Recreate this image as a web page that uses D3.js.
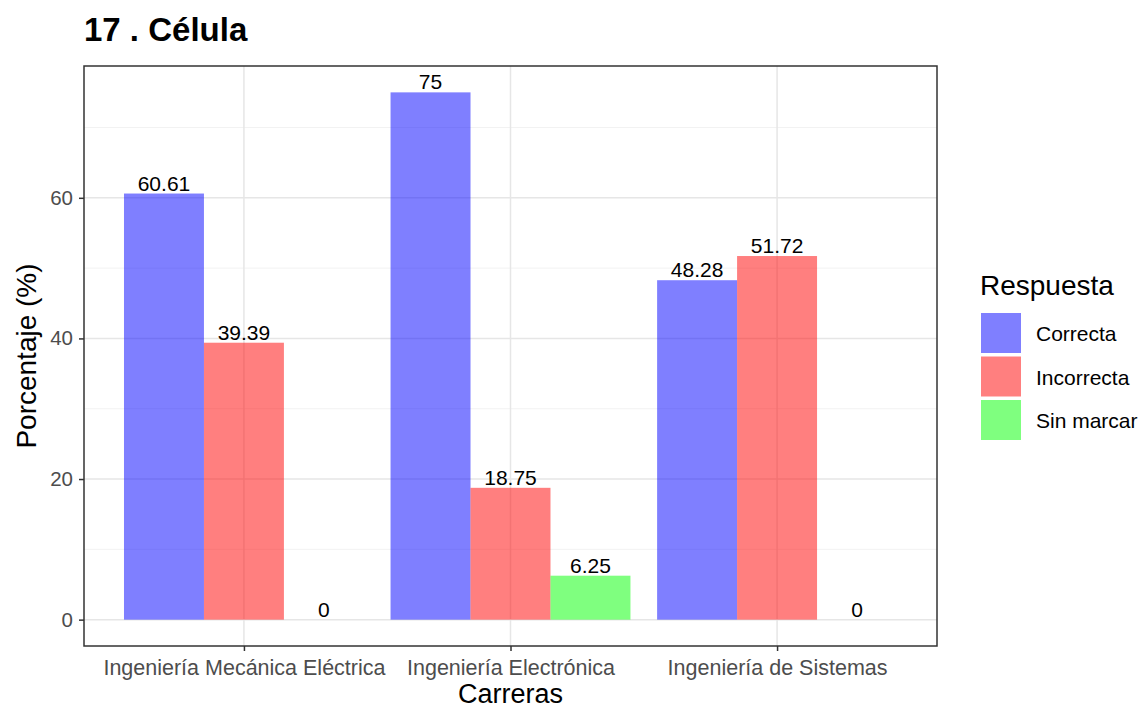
<!DOCTYPE html>
<html>
<head>
<meta charset="utf-8">
<script src="https://cdn.jsdelivr.net/npm/d3@7"></script>
<style>
  body { margin: 0; background: #fff; }
  text { font-family: "Liberation Sans", Arial, sans-serif; }
</style>
</head>
<body>
<script>
const carreras = ['Ingeniería Mecánica Eléctrica', 'Ingeniería Electrónica', 'Ingeniería de Sistemas'];
const respuestas = ['Correcta', 'Incorrecta', 'Sin marcar'];
const correcta = [60.61, 75, 48.28];
const incorrecta = [39.39, 18.75, 51.72];
const sinMarcar = [0, 6.25, 0];
const colores = ['#0000ff', '#ff0000', '#00ff00'];
const yTicks = [0, 20, 40, 60];
const yMinor = [10, 30, 50, 70];

const series = [correcta, incorrecta, sinMarcar];
const rows = [];
carreras.forEach((c, i) => {
  respuestas.forEach((r, j) => rows.push({ carrera: c, respuesta: r, value: series[j][i] }));
});

const W = 1143, H = 711;
const panel = { left: 84, right: 937, top: 66, bottom: 646 };

const svg = d3.select('body').append('svg')
  .attr('width', W)
  .attr('height', H);

// ggplot-like discrete axis: 0.6 unit expansion on each side
const unit = (panel.right - panel.left) / (carreras.length - 1 + 1.2);
const x = d3.scalePoint()
  .domain(carreras)
  .range([panel.left + unit * 0.6, panel.right - unit * 0.6]);
const xs = d3.scaleBand().domain(respuestas).range([-unit * 0.45, unit * 0.45]);

const maxV = 75;
const y = d3.scaleLinear()
  .domain([-maxV * 0.05, maxV * 1.05])
  .range([panel.bottom, panel.top]);

// grid
const g = svg.append('g');
g.selectAll('.minor').data(yMinor).enter().append('line')
  .attr('x1', panel.left).attr('x2', panel.right)
  .attr('y1', d => y(d)).attr('y2', d => y(d))
  .attr('stroke', '#f2f2f2').attr('stroke-width', 1);
g.selectAll('.major').data(yTicks).enter().append('line')
  .attr('x1', panel.left).attr('x2', panel.right)
  .attr('y1', d => y(d)).attr('y2', d => y(d))
  .attr('stroke', '#e6e6e6').attr('stroke-width', 1.5);
g.selectAll('.vmajor').data(carreras).enter().append('line')
  .attr('x1', d => x(d)).attr('x2', d => x(d))
  .attr('y1', panel.top).attr('y2', panel.bottom)
  .attr('stroke', '#e6e6e6').attr('stroke-width', 1.5);

// bars (alpha 0.5 so the grid shows through)
const color = d3.scaleOrdinal().domain(respuestas).range(colores);
svg.selectAll('rect.bar').data(rows).enter().append('rect')
  .attr('class', 'bar')
  .attr('x', d => x(d.carrera) + xs(d.respuesta))
  .attr('width', xs.bandwidth())
  .attr('y', d => y(d.value))
  .attr('height', d => y(0) - y(d.value))
  .attr('fill', d => color(d.respuesta))
  .attr('fill-opacity', 0.5);

// value labels
svg.selectAll('text.val').data(rows).enter().append('text')
  .attr('x', d => x(d.carrera) + xs(d.respuesta) + xs.bandwidth() / 2)
  .attr('y', d => y(d.value) - 3)
  .attr('text-anchor', 'middle')
  .attr('font-size', 21)
  .attr('fill', '#000')
  .text(d => d.value);

// panel border
svg.append('rect')
  .attr('x', panel.left).attr('y', panel.top)
  .attr('width', panel.right - panel.left).attr('height', panel.bottom - panel.top)
  .attr('fill', 'none').attr('stroke', '#333').attr('stroke-width', 1.5);

// y axis
const yAxis = svg.append('g')
  .attr('transform', `translate(${panel.left},0)`)
  .call(d3.axisLeft(y).tickValues(yTicks).tickSize(5).tickPadding(6));
yAxis.select('.domain').remove();
yAxis.selectAll('line').attr('stroke', '#333').attr('stroke-width', 1.5);
yAxis.selectAll('text').attr('font-size', 20.5).attr('fill', '#4d4d4d')
  .style('font-family', '"Liberation Sans", Arial, sans-serif');

// x axis
const xAxis = svg.append('g')
  .attr('transform', `translate(0,${panel.bottom})`)
  .call(d3.axisBottom(x).tickSize(5).tickPadding(9));
xAxis.select('.domain').remove();
xAxis.selectAll('line').attr('stroke', '#333').attr('stroke-width', 1.5);
xAxis.selectAll('text').attr('font-size', 21.5).attr('fill', '#4d4d4d')
  .style('font-family', '"Liberation Sans", Arial, sans-serif');

// titles
svg.append('text')
  .attr('x', panel.left).attr('y', 41)
  .attr('font-size', 33).attr('font-weight', 'bold')
  .text('17 . Célula');

svg.append('text')
  .attr('x', (panel.left + panel.right) / 2).attr('y', 703)
  .attr('text-anchor', 'middle').attr('font-size', 27)
  .text('Carreras');

svg.append('text')
  .attr('transform', `translate(36,${(panel.top + panel.bottom) / 2}) rotate(-90)`)
  .attr('text-anchor', 'middle').attr('font-size', 28)
  .text('Porcentaje (%)');

// legend
const leg = svg.append('g').attr('transform', 'translate(981,0)');
leg.append('text').attr('x', -1).attr('y', 295).attr('font-size', 28).text('Respuesta');
respuestas.forEach((r, i) => {
  leg.append('rect')
    .attr('x', 0).attr('y', 313 + i * 43.5)
    .attr('width', 40).attr('height', 40)
    .attr('fill', color(r))
    .attr('fill-opacity', 0.5);
  leg.append('text')
    .attr('x', 55).attr('y', 313 + i * 43.5 + 28)
    .attr('font-size', 21)
    .text(r);
});
</script>
</body>
</html>
